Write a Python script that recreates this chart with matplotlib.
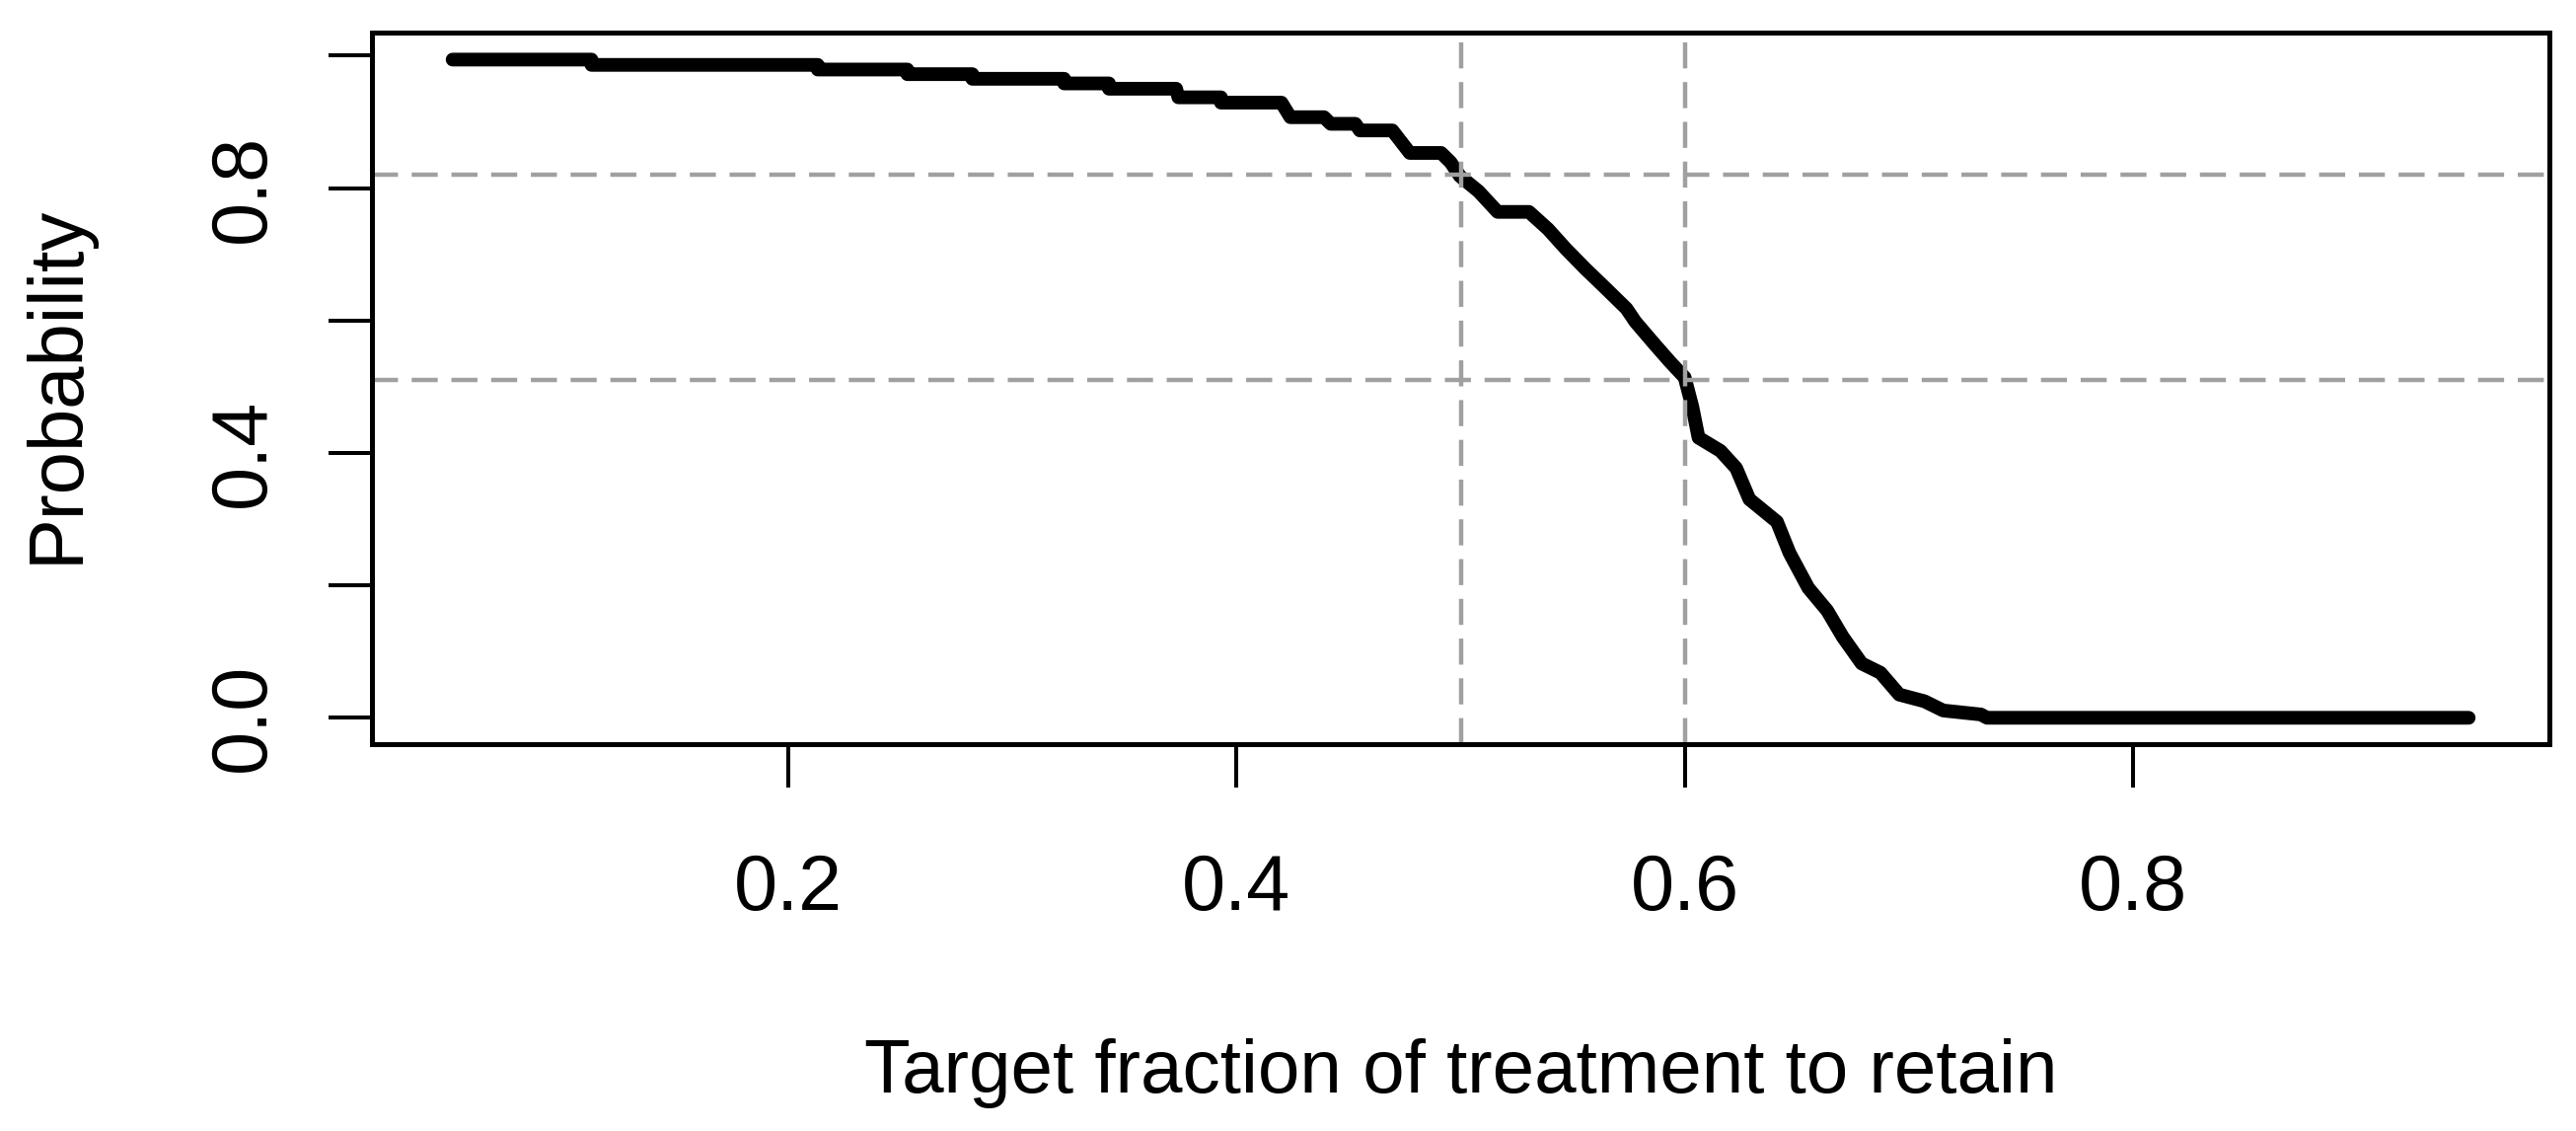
import numpy as np
import matplotlib
matplotlib.use("Agg")
import matplotlib.pyplot as plt

plt.rcParams['font.family'] = ['Liberation Sans', 'DejaVu Sans']
plt.rcParams['lines.scale_dashes'] = False

# curve (target fraction -> probability)
target = [0.05, 0.112, 0.112, 0.213, 0.213, 0.253, 0.253, 0.282, 0.282, 0.323,
          0.323, 0.343, 0.343, 0.373, 0.374, 0.393, 0.393, 0.420, 0.424, 0.439,
          0.442, 0.453, 0.455, 0.4695, 0.4773, 0.4913, 0.4955, 0.4997, 0.508,
          0.5165, 0.5305, 0.539, 0.547, 0.5557, 0.564, 0.574, 0.578, 0.5866,
          0.5936, 0.600, 0.6034, 0.6062, 0.616, 0.623, 0.6289, 0.6412, 0.6468,
          0.6552, 0.6636, 0.6706, 0.679, 0.6874, 0.6958, 0.707, 0.7154, 0.7322,
          0.735, 0.95]
prob = [0.994, 0.994, 0.986, 0.986, 0.979, 0.979, 0.972, 0.972, 0.965, 0.965,
        0.958, 0.958, 0.950, 0.950, 0.937, 0.937, 0.929, 0.929, 0.907, 0.907,
        0.897, 0.897, 0.887, 0.887, 0.853, 0.853, 0.839, 0.818, 0.795,
        0.764, 0.764, 0.738, 0.708, 0.678, 0.651, 0.618, 0.598, 0.564,
        0.537, 0.514, 0.470, 0.423, 0.403, 0.377, 0.330, 0.296, 0.249,
        0.196, 0.162, 0.122, 0.082, 0.068, 0.035, 0.025, 0.011, 0.005,
        0.0, 0.0]

hlines = [0.82, 0.51]
vlines = [0.5, 0.6]

xticks = [0.2, 0.4, 0.6, 0.8]
yticks = [0.0, 0.2, 0.4, 0.6, 0.8, 1.0]
ytick_labels = ['0.0', '', '0.4', '', '0.8', '']

fig = plt.figure(figsize=(26.11, 11.46), dpi=100)
ax = fig.add_axes([0.14439, 0.34206, 0.84527, 0.62914])

ax.plot(target, prob, color='black', lw=10,
        solid_capstyle='round', solid_joinstyle='round')

grid_style = dict(color='#a0a0a0', lw=3.2, linestyle=(0, (19, 10)))
for h in hlines:
    ax.axhline(h, **grid_style)
for v in vlines:
    ax.axvline(v, **grid_style)

ax.set_xlim(0.014, 0.986)
ax.set_ylim(-0.0398, 1.0348)

ax.set_xticks(xticks)
ax.set_xticklabels([f'{t:.1f}' for t in xticks])
ax.set_yticks(yticks)
ax.set_yticklabels(ytick_labels)

ax.tick_params(axis='both', length=32, width=2.9, labelsize=57, color='black')
ax.tick_params(axis='x', pad=47)
ax.tick_params(axis='y', pad=34)
plt.setp(ax.get_yticklabels(), rotation=90, va='center')

for s in ax.spines.values():
    s.set_linewidth(3.6)

ax.set_xlabel('Target fraction of treatment to retain', fontsize=55)
ax.xaxis.set_label_coords(0.5, -0.4133)
ax.set_ylabel('Probability', fontsize=56)
ax.yaxis.set_label_coords(-0.128, 0.5055)

fig.savefig('out.png', dpi=100)
